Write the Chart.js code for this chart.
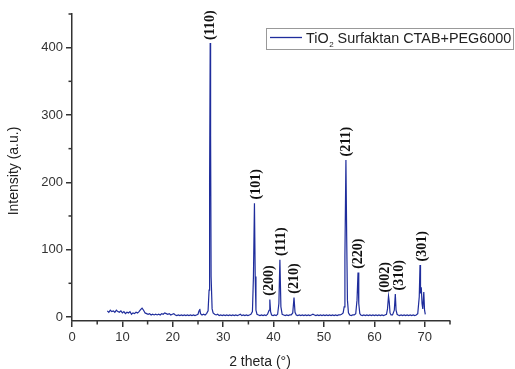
<!DOCTYPE html>
<html>
<head>
<meta charset="utf-8">
<script src="https://cdn.jsdelivr.net/npm/chart.js@4/dist/chart.umd.min.js"></script>
<style>
html,body{margin:0;padding:0;background:#fff;}
#c{display:block;}
</style>
</head>
<body>
<canvas id="c" width="515" height="369"></canvas>
<script>
// ---- data ----
const twoTheta = [
7.0,7.3,7.6,7.9,8.2,8.5,8.8,9.1,9.4,9.7,10.0,10.3,10.6,10.9,11.2,11.5,11.8,12.1,12.4,12.7,
13.0,13.3,13.6,13.9,14.2,14.5,14.8,15.1,15.4,15.7,16.0,16.3,16.6,16.9,17.2,17.5,17.8,18.1,18.4,18.7,
19.0,19.3,19.6,19.9,20.2,20.5,20.8,21.1,21.4,21.7,22.0,22.3,22.6,22.9,23.2,23.5,23.8,24.1,24.4,24.7,
25.0,25.2,25.35,25.5,25.8,26.1,26.4,26.7,27.0,27.2,27.3,27.42,27.5,27.6,27.8,28.0,28.3,28.6,28.9,29.2,
29.5,29.8,30.1,30.4,30.7,31.0,31.3,31.6,31.9,32.2,32.5,32.8,33.1,33.4,33.7,34.0,34.3,34.6,34.9,35.2,
35.5,35.8,36.0,36.2,36.35,36.5,36.7,37.0,37.3,37.6,37.9,38.2,38.5,38.8,39.1,39.25,39.4,39.6,39.9,40.2,
40.5,40.8,41.05,41.25,41.45,41.7,42.0,42.3,42.6,42.9,43.2,43.5,43.8,44.05,44.25,44.5,44.8,45.1,45.4,45.7,
46.0,46.3,46.6,46.9,47.2,47.5,47.8,48.1,48.4,48.7,49.0,49.3,49.6,49.9,50.2,50.5,50.8,51.1,51.4,51.7,
52.0,52.3,52.6,52.9,53.2,53.5,53.8,54.0,54.15,54.35,54.5,54.65,54.85,55.1,55.4,55.7,56.0,56.3,56.55,56.75,
56.9,57.1,57.3,57.6,57.9,58.2,58.5,58.8,59.1,59.4,59.7,60.0,60.3,60.6,60.9,61.2,61.5,61.8,62.1,62.4,
62.6,62.8,62.95,63.1,63.3,63.6,63.95,64.15,64.3,64.5,64.7,65.0,65.3,65.6,65.9,66.2,66.5,66.8,67.1,67.4,
67.7,68.0,68.3,68.6,68.9,69.05,69.15,69.3,69.45,69.6,69.8,69.95,70.1
];
const intensity = [
9,7,10,8,9,7,10,8,7,9,6,8,5,7,6,8,4,6,5,7,
6,8,11,13,10,6,5,4,5,3,4,3,4,3,4,3,5,4,6,5,
4,5,3,4,5,3,2,3,2,3,2,3,2,3,2,3,2,3,2,3,
4,9,12,5,3,4,3,5,9,40,200,407,270,60,12,6,4,3,4,2,
3,2,3,2,3,2,3,2,3,2,3,2,3,4,2,3,2,3,2,3,
4,8,60,169,60,10,4,3,2,3,2,3,2,4,10,26,8,3,2,3,
2,4,20,85,15,4,3,2,3,2,3,3,6,29,7,3,2,3,2,3,
2,3,2,3,2,3,4,3,2,3,2,3,2,3,2,3,2,3,2,3,
2,3,2,3,3,4,6,15,90,233,120,25,6,3,2,3,3,5,25,66,
20,5,3,2,3,2,3,2,3,2,3,2,3,2,3,2,3,2,3,4,
12,31,22,6,3,3,10,34,10,4,3,2,3,2,3,2,3,2,3,2,
3,2,3,5,30,77,35,44,20,12,37,10,4
];
const seriesName = "TiO2 Surfaktan CTAB+PEG6000";
const xMajorTicks = [0,10,20,30,40,50,60,70];
const xMinorTicks = [5,15,25,35,45,55,65,75];
const yMajorTicks = [0,100,200,300,400];
const yMinorTicks = [50,150,250,350,450];
const hklLabels = ["(110)","(101)","(200)","(111)","(210)","(211)","(220)","(002)","(310)","(301)"];
const hklTheta = [27.5,36.5,39.1,41.5,44.2,54.5,56.8,62.2,65.0,69.6];
const hklIntensity = [407,170,27,86,30,234,67,32,35,78];

const points = twoTheta.map((t,i)=>({x:t,y:intensity[i]}));
const AXIS = '#333333';
const LINE = '#1f2d9c';

const extras = {
  id:'extras',
  afterDraw(chart){
    const ctx = chart.ctx, xs = chart.scales.x, ys = chart.scales.y, ca = chart.chartArea;
    ctx.save();
    ctx.strokeStyle = AXIS; ctx.lineWidth = 1.5;
    // minor ticks
    xMinorTicks.forEach(v=>{const px=xs.getPixelForValue(v);ctx.beginPath();ctx.moveTo(px,ca.bottom);ctx.lineTo(px,ca.bottom+3.5);ctx.stroke();});
    yMinorTicks.forEach(v=>{const py=ys.getPixelForValue(v);ctx.beginPath();ctx.moveTo(ca.left,py);ctx.lineTo(ca.left-3.5,py);ctx.stroke();});
    // axis titles
    ctx.fillStyle = '#222';
    ctx.font = '14px "Liberation Sans", Arial, sans-serif';
    ctx.textAlign='center'; ctx.textBaseline='middle';
    ctx.fillText('2 theta (\u00B0)', 260, 362);
    ctx.save(); ctx.translate(14,171); ctx.rotate(-Math.PI/2); ctx.fillText('Intensity (a.u.)',0,0); ctx.restore();
    // hkl labels
    ctx.fillStyle = '#111';
    ctx.font = 'bold 14px "Liberation Serif", "Times New Roman", serif';
    ctx.textAlign='left'; ctx.textBaseline='middle';
    hklLabels.forEach((lab,i)=>{
      const px = xs.getPixelForValue(hklTheta[i]);
      const py = ys.getPixelForValue(hklIntensity[i]) - 3;
      ctx.save(); ctx.translate(px,py); ctx.rotate(-Math.PI/2); ctx.fillText(lab,0,0); ctx.restore();
    });
    // legend
    const bx=266, by=28, bw=247, bh=21;
    ctx.fillStyle='#fff'; ctx.fillRect(bx,by,bw,bh);
    ctx.strokeStyle='#999'; ctx.lineWidth=1; ctx.strokeRect(bx+0.5,by+0.5,bw,bh);
    ctx.strokeStyle=LINE; ctx.lineWidth=1.3;
    ctx.beginPath(); ctx.moveTo(270,37.5); ctx.lineTo(302,37.5); ctx.stroke();
    ctx.fillStyle='#222'; ctx.textAlign='left'; ctx.textBaseline='alphabetic';
    ctx.font='14.4px "Liberation Sans", Arial, sans-serif';
    const parts = seriesName.match(/^(TiO)(2)(.*)$/);
    let x=306; const base=43;
    ctx.fillText(parts[1],x,base); x+=ctx.measureText(parts[1]).width;
    ctx.font='8px "Liberation Sans", Arial, sans-serif';
    ctx.fillText(parts[2],x+0.5,base+4); x+=ctx.measureText(parts[2]).width+0.5;
    ctx.font='14.4px "Liberation Sans", Arial, sans-serif';
    ctx.fillText(parts[3],x,base);
    ctx.restore();
  }
};

new Chart(document.getElementById('c'),{
  type:'scatter',
  data:{datasets:[{label:seriesName,data:points,showLine:true,pointRadius:0,borderColor:LINE,borderWidth:1.2,tension:0}]},
  options:{
    responsive:false, animation:false, devicePixelRatio:1,
    layout:{padding:{left:0,right:65,top:14,bottom:0}},
    plugins:{legend:{display:false},tooltip:{enabled:false}},
    scales:{
      x:{type:'linear',min:0,max:75,
        afterBuildTicks:s=>{s.ticks=xMajorTicks.map(v=>({value:v}));},
        afterFit:s=>{s.height=48;},
        ticks:{color:'#333',font:{family:'"Liberation Sans", Arial, sans-serif',size:13},padding:3,maxRotation:0,autoSkip:false},
        grid:{drawOnChartArea:false,drawTicks:true,tickLength:6,color:AXIS,lineWidth:1.5},
        border:{color:AXIS,width:1.5}},
      y:{type:'linear',min:-6,max:450,
        afterBuildTicks:s=>{s.ticks=yMajorTicks.map(v=>({value:v}));},
        afterFit:s=>{s.width=72;},
        ticks:{color:'#333',font:{family:'"Liberation Sans", Arial, sans-serif',size:13},padding:3,autoSkip:false},
        grid:{drawOnChartArea:false,drawTicks:true,tickLength:6,color:AXIS,lineWidth:1.5},
        border:{color:AXIS,width:1.5}}
    }
  },
  plugins:[extras]
});
</script>
</body>
</html>
